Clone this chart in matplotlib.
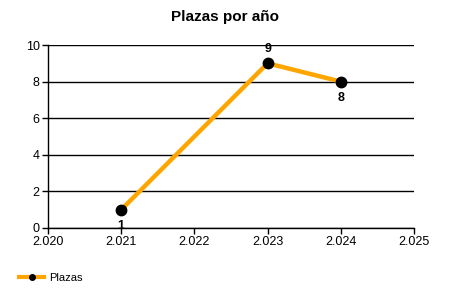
import matplotlib
matplotlib.use("Agg")
import matplotlib.pyplot as plt
from matplotlib.ticker import FuncFormatter, MultipleLocator
from matplotlib.lines import Line2D

plt.rcParams['font.family'] = ['Liberation Sans', 'DejaVu Sans']

years = [2021, 2023, 2024]
plazas = [1, 9, 8]
label_pos = ['below', 'above', 'below']
title = "Plazas por año"
series_name = "Plazas"

fig = plt.figure(figsize=(4.5, 3), dpi=100)
ax = fig.add_axes([48/450, 1-228/300, (414-48)/450, (228-45)/300])

ax.plot(years, plazas, color='#FFA500', linewidth=3.2, marker='o',
        markersize=7.5, markerfacecolor='black', markeredgecolor='black',
        solid_capstyle='butt', zorder=3, clip_on=False)

for x, y, p in zip(years, plazas, label_pos):
    off = 10 if p == 'above' else -12
    ax.annotate(str(y), (x, y), xytext=(0, off), textcoords='offset points',
                ha='center', va='center', fontsize=9, fontweight='bold', color='black')

ax.set_xlim(2020, 2025)
ax.set_ylim(0, 10)
ax.xaxis.set_major_locator(MultipleLocator(1))
ax.yaxis.set_major_locator(MultipleLocator(2))
ax.xaxis.set_major_formatter(FuncFormatter(lambda v, p: f"{int(round(v)):,}".replace(",", ".")))
ax.grid(axis='y', color='black', linewidth=1)
ax.set_axisbelow(True)
for s in ['top', 'right']:
    ax.spines[s].set_visible(False)
for s in ['left', 'bottom']:
    ax.spines[s].set_linewidth(1)
ax.tick_params(axis='both', length=4, width=1, labelsize=9, pad=2, color='black')

fig.text(0.5, 1-17/300, title, ha='center', va='center', fontsize=11, fontweight='bold')

handle = Line2D([], [], color='#FFA500', linewidth=3, marker='o', markersize=4,
                markerfacecolor='black', markeredgecolor='black')
fig.legend([handle], [series_name], loc='center left', bbox_to_anchor=(15/450, 1-278/300),
           frameon=False, fontsize=8, handlelength=2.2, handletextpad=0.5, borderaxespad=0)

fig.savefig("out.png", dpi=100)
